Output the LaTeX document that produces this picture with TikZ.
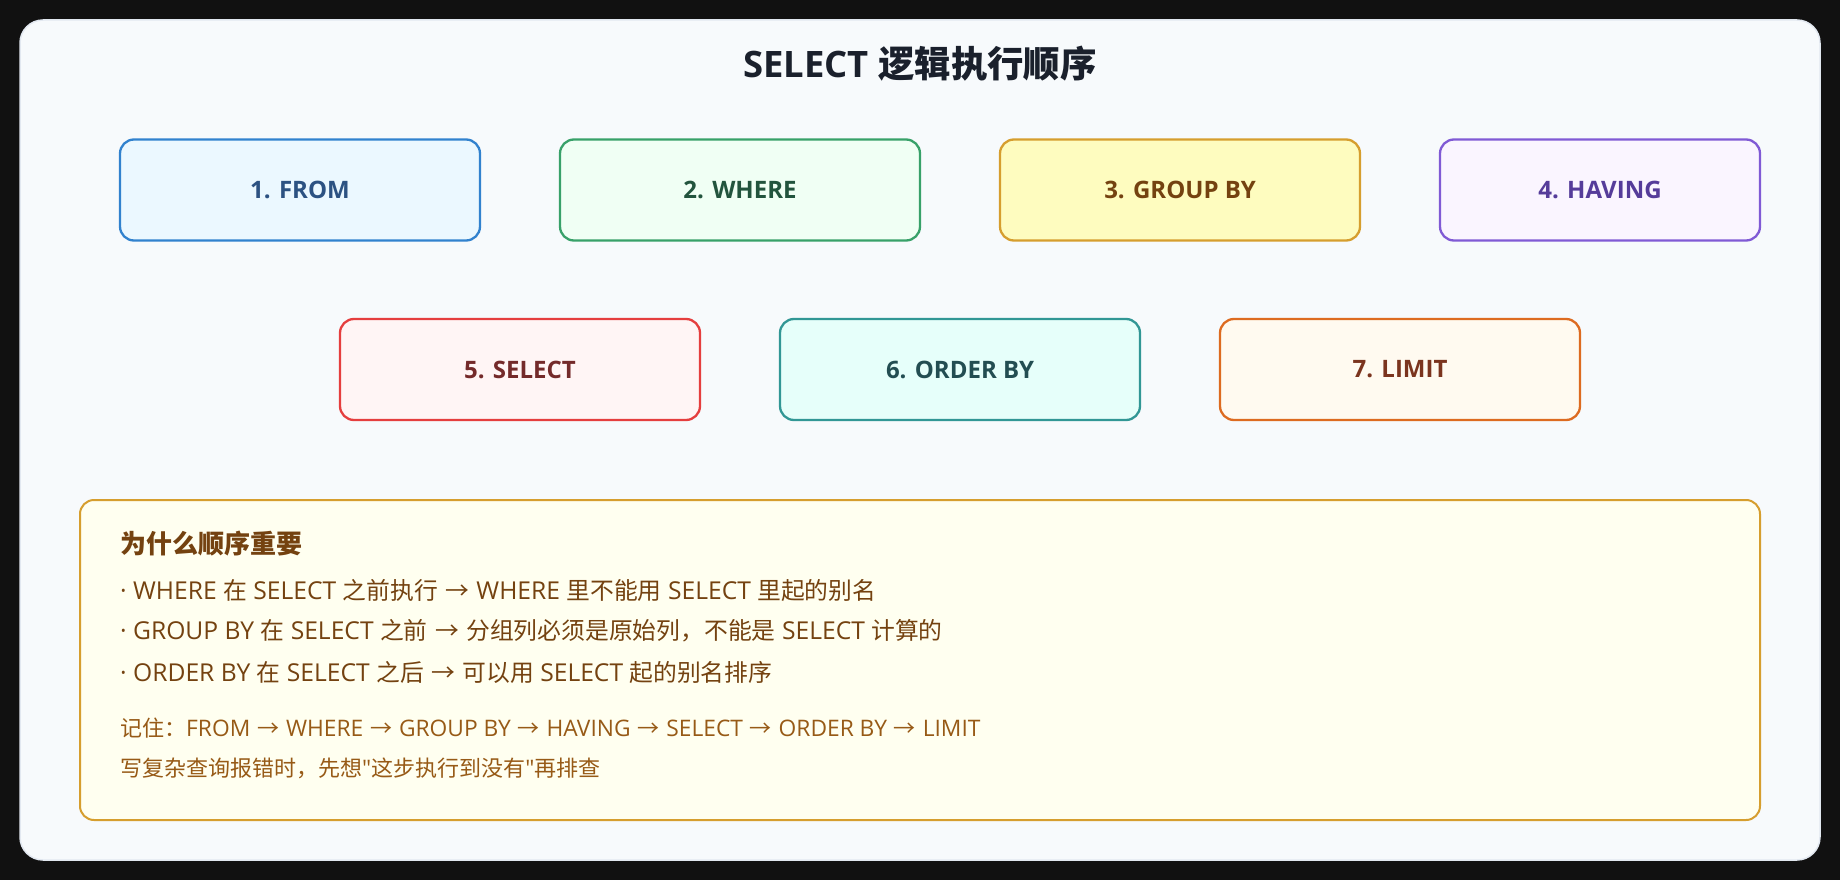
\documentclass[tikz,border=0pt]{standalone}
\usepackage{fontspec}
\setmainfont{Open Sans}
\newfontfamily\bodyfont{Open Sans}[Scale=1.035]
\newfontfamily\cjk{Noto Sans CJK SC}
\newcommand\zh[1]{{\cjk #1}}
\newcommand\ar{\makebox[1.05em]{\cjk →}}
\newcommand\qq{\textquotedbl}
\definecolor{pagebg}{HTML}{111111}
\definecolor{cardbg}{HTML}{F7FAFC}
\definecolor{cardline}{HTML}{E2E8F0}
\definecolor{titlec}{HTML}{1A202C}
\definecolor{fA}{HTML}{EBF8FF}\definecolor{dA}{HTML}{3182CE}\definecolor{tA}{HTML}{2C5282}
\definecolor{fB}{HTML}{F0FFF4}\definecolor{dB}{HTML}{38A169}\definecolor{tB}{HTML}{22543D}
\definecolor{fC}{HTML}{FEFCBF}\definecolor{dC}{HTML}{D69E2E}\definecolor{tC}{HTML}{744210}
\definecolor{fD}{HTML}{FAF5FF}\definecolor{dD}{HTML}{805AD5}\definecolor{tD}{HTML}{553C9A}
\definecolor{fE}{HTML}{FFF5F5}\definecolor{dE}{HTML}{E53E3E}\definecolor{tE}{HTML}{742A2A}
\definecolor{fF}{HTML}{E6FFFA}\definecolor{dF}{HTML}{319795}\definecolor{tF}{HTML}{234E52}
\definecolor{fG}{HTML}{FFFAF0}\definecolor{dG}{HTML}{DD6B20}\definecolor{tG}{HTML}{7B341E}
\definecolor{noteF}{HTML}{FFFFF0}\definecolor{noteD}{HTML}{D69E2E}
\definecolor{noteT}{HTML}{744210}\definecolor{noteS}{HTML}{975A16}
\tikzset{
  stepbox/.style n args={3}{draw=#2, fill=#1, text=#3, line width=2.3pt,
    rounded corners=14pt, minimum width=360pt, minimum height=101pt,
    inner sep=0pt, font=\fontsize{24}{30}\selectfont\bfseries},
  notebox/.style={draw=noteD, fill=noteF, line width=2pt, rounded corners=14pt,
    minimum width=1680pt, minimum height=320pt, inner sep=0pt},
  noteline/.style={anchor=west, inner sep=0pt, text=noteT, font=\bodyfont\fontsize{23.8}{28}\selectfont},
  notesmall/.style={anchor=west, inner sep=0pt, text=noteS, font=\bodyfont\fontsize{22}{26}\selectfont},
}
\begin{document}
\begin{tikzpicture}[x=1pt,y=-1pt]
\useasboundingbox (0,0) rectangle (1840,880);
\fill[pagebg] (0,0) rectangle (1840,880);
\draw[cardline, fill=cardbg, line width=1.5pt, rounded corners=23pt] (20,20) rectangle (1820,860);
\node[text=titlec, font=\fontsize{36.4}{42}\selectfont\bfseries, inner sep=0pt] (title) at (920,64) {SELECT \zh{逻辑执行顺序}};
\node[stepbox={fA}{dA}{tA}] (s1) at (300,190) {1. FROM};
\node[stepbox={fB}{dB}{tB}] (s2) at (740,190) {2. WHERE};
\node[stepbox={fC}{dC}{tC}] (s3) at (1180,190) {3. GROUP BY};
\node[stepbox={fD}{dD}{tD}, minimum width=320pt] (s4) at (1600,190) {4. HAVING};
\node[stepbox={fE}{dE}{tE}] (s5) at (520,369.5) {5. SELECT};
\node[stepbox={fF}{dF}{tF}] (s6) at (960,369.5) {6. ORDER BY};
\node[stepbox={fG}{dG}{tG}] (s7) at (1400,369.5) {7. LIMIT};
\node[notebox] (note) at (920,660) {};
\node[anchor=west, inner sep=0pt, text=noteT, font=\fontsize{26}{30}\selectfont\bfseries] (nh) at (120,544) {\zh{为什么顺序重要}};
\node[noteline] (n1) at (120,590) {· WHERE \zh{在} SELECT \zh{之前执行} \ar{} WHERE \zh{里不能用} SELECT \zh{里起的别名}};
\node[noteline] (n2) at (120,631) {· GROUP BY \zh{在} SELECT \zh{之前} \ar{} \zh{分组列必须是原始列，不能是} SELECT \zh{计算的}};
\node[noteline] (n3) at (120,672) {· ORDER BY \zh{在} SELECT \zh{之后} \ar{} \zh{可以用} SELECT \zh{起的别名排序}};
\node[notesmall] (r1) at (120,728) {\zh{记住：}FROM \ar{} WHERE \ar{} GROUP BY \ar{} HAVING \ar{} SELECT \ar{} ORDER BY \ar{} LIMIT};
\node[notesmall] (r2) at (120,768) {\zh{写复杂查询报错时，先想}\qq\zh{这步执行到没有}\qq\zh{再排查}};
\end{tikzpicture}
\end{document}
